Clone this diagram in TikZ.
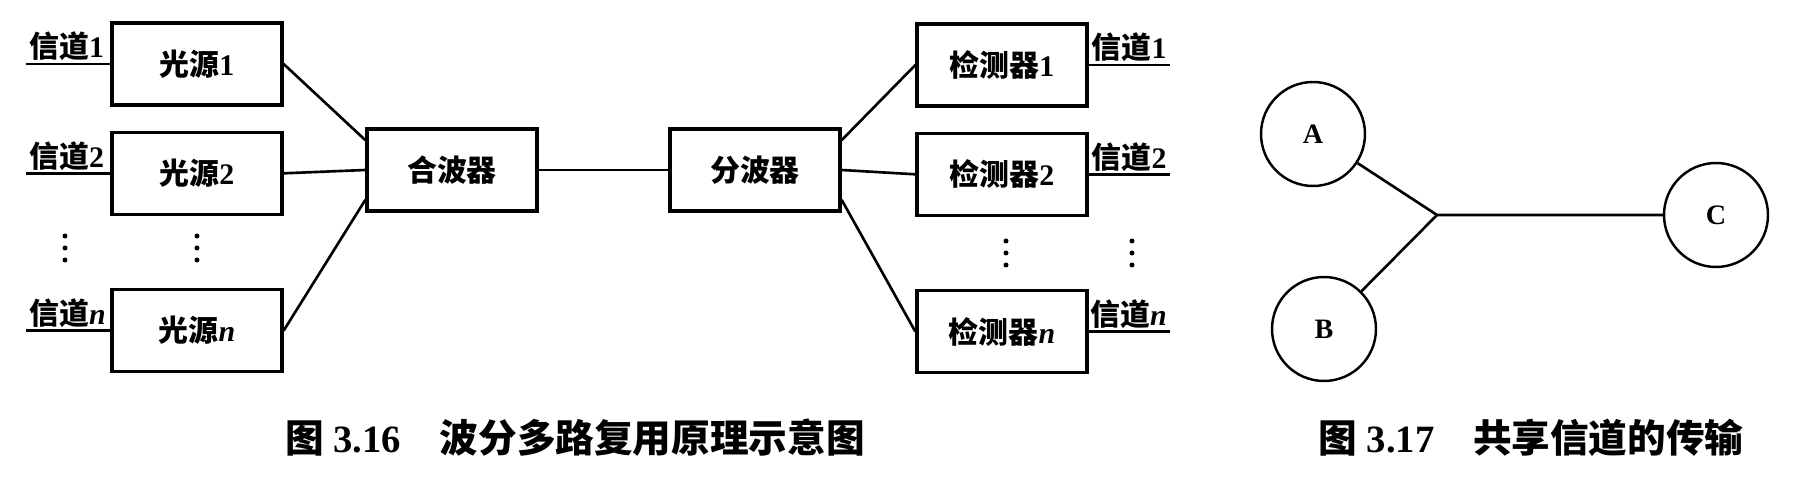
\documentclass[tikz,border=0pt]{standalone}
\usepackage{fontspec}
\setmainfont{Liberation Serif}
\newfontfamily\cjk{Noto Sans CJK SC}
\newcommand{\zh}[1]{{\cjk\bfseries #1}}
\usepackage{tikz}
\usetikzlibrary{positioning}

\begin{document}
\begin{tikzpicture}[%
    x=0.02cm, y=-0.02cm,
    box/.style={draw, line width=1.9pt, minimum width=3.4cm, minimum height=1.64cm,
      inner sep=0pt, font=\fontsize{17}{20}\selectfont\bfseries},
    ring/.style={draw, circle, line width=1.4pt, minimum size=2.08cm, inner sep=0pt,
      font=\fontsize{16}{19}\selectfont\bfseries},
    wire/.style={line width=1.5pt},
    chan/.style={inner sep=1.5pt, font=\fontsize{17}{20}\selectfont\bfseries},
    caption/.style={font=\fontsize{22}{26}\selectfont\bfseries}]
  \useasboundingbox (0,0) rectangle (1806,482);
  \node[box] (src1) at (197,64) {\zh{光源}1};
  \node[box, below=0.48cm of src1] (src2) {\zh{光源}2};
  \node[box, below=1.44cm of src2] (srcn) {\zh{光源}\textit{n}};
  \node[box] (mux) at (452,170) {\zh{合波器}};
  \node[box] (demux) at (755,170) {\zh{分波器}};
  \node[box] (det1) at (1002,65) {\zh{检测器}1};
  \node[box, below=0.48cm of det1] (det2) {\zh{检测器}2};
  \node[box, below=1.44cm of det2] (detn) {\zh{检测器}\textit{n}};
  \foreach \i/\t in {1/1, 2/2, n/\textit{n}} {
    \coordinate[left=1.68cm of src\i.west] (in\i);
    \coordinate[right=1.62cm of det\i.east] (out\i);
    \draw[wire] (in\i) -- (src\i.west);
    \draw[wire] (det\i.east) -- (out\i);
    \node[chan, anchor=south west] (lin\i) at (in\i) {\zh{信道}\t};
    \node[chan, anchor=south east] (lout\i) at (out\i) {\zh{信道}\t};
  }
  \draw[wire] (src1.east) -- (mux.161);
  \draw[wire] (src2.east) -- (mux.west);
  \draw[wire] (srcn.east) -- (mux.199);
  \draw[wire] (mux.east) -- (demux.west);
  \draw[wire] (demux.19) -- (det1.west);
  \draw[wire] (demux.east) -- (det2.west);
  \draw[wire] (demux.-19) -- (detn.west);
  \foreach \x/\y in {65/236, 197/236, 1006/241, 1132/241}
    \foreach \d in {0,12,24}
      \fill (\x,\y+\d) circle (0.05cm);
  \node[ring] (A) at (1313,134) {A};
  \node[ring] (B) at (1324,329) {B};
  \node[ring] (C) at (1716,215) {C};
  \coordinate (hub) at (1437,215);
  \draw[wire] (A) -- (hub) -- (C);
  \draw[wire] (B) -- (hub);
  \node[caption] (cap1) at (575,438) {\zh{图} 3.16\quad\zh{波分多路复用原理示意图}};
  \node[caption] (cap2) at (1531,438) {\zh{图} 3.17\quad\zh{共享信道的传输}};
\end{tikzpicture}
\end{document}
